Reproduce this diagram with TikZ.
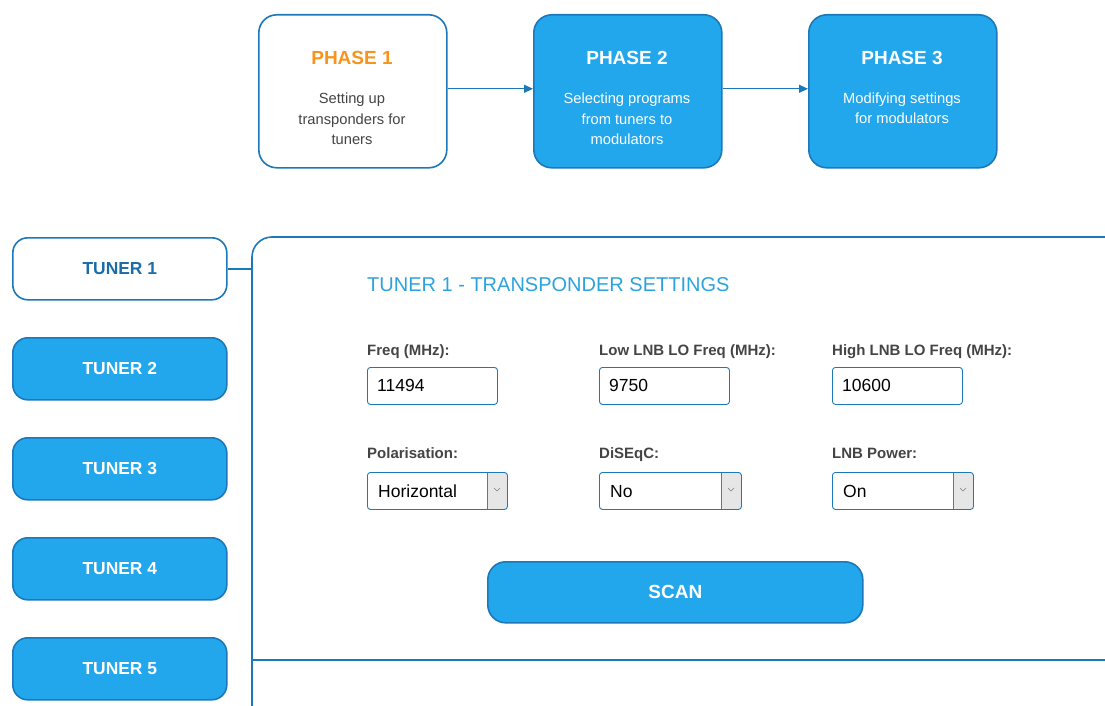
\documentclass[tikz,border=0pt]{standalone}
\usepackage{fontspec}
\setmainfont{Liberation Sans}
\usetikzlibrary{arrows.meta}
\definecolor{btnblue}{HTML}{22A7EC}
\definecolor{edgeblue}{HTML}{1C78B8}
\definecolor{darkblue}{HTML}{1B6CA8}
\definecolor{titleblue}{HTML}{2DA3DD}
\definecolor{orng}{HTML}{F7941D}
\definecolor{lbl}{HTML}{444444}
\definecolor{ddgray}{HTML}{E6E6E6}
\tikzset{
  phasebox/.style={draw=edgeblue, line width=1.6pt, rounded corners=18pt, minimum width=188pt, minimum height=153pt, anchor=north west, fill=btnblue},
  tunerbox/.style={draw=edgeblue, line width=1.6pt, rounded corners=15pt, minimum width=214pt, minimum height=62pt, anchor=north west, fill=btnblue, text=white, font=\fontsize{17.4}{19}\selectfont\bfseries},
  ptitle/.style={font=\fontsize{19}{21}\selectfont\bfseries, text=white, inner sep=0pt},
  pbody/.style={font=\fontsize{14.7}{20}\selectfont, text=white, align=center, inner sep=0pt},
  flbl/.style={anchor=base west, inner sep=0pt, font=\fontsize{15}{17}\selectfont\bfseries, text=lbl},
  inbox/.style={draw=edgeblue, line width=0.9pt, rounded corners=3pt, minimum width=130pt, minimum height=37pt, anchor=north west},
  intext/.style={anchor=base west, inner sep=0pt, font=\fontsize{17.5}{20}\selectfont, text=black},
  conn/.style={draw=edgeblue, line width=1.2pt},
  arr/.style={conn, -{Triangle[length=9pt,width=8pt]}}
}
\begin{document}
\begin{tikzpicture}[x=1pt,y=-1pt]
\useasboundingbox (0,0) rectangle (1105,706);
% phases
\node[phasebox, fill=white] (p1) at (258,14) {};
\node[phasebox] (p2) at (533,14) {};
\node[phasebox] (p3) at (808,14) {};
\node[ptitle, text=orng, anchor=base] (p1t) at (352,65) {PHASE 1};
\node[pbody, text=lbl, anchor=base] (p1b) at (352,144) {Setting up\\transponders for\\tuners};
\node[ptitle, anchor=base] (p2t) at (627,65) {PHASE 2};
\node[pbody, anchor=base] (p2b) at (627,144) {Selecting programs\\from tuners to\\modulators};
\node[ptitle, anchor=base] (p3t) at (902,65) {PHASE 3};
\node[pbody, anchor=base] (p3b) at (902,124) {Modifying settings\\for modulators};
\draw[arr] ([yshift=2.5pt]p1.east) -- ([yshift=2.5pt]p2.west);
\draw[arr] ([yshift=2.5pt]p2.east) -- ([yshift=2.5pt]p3.west);
% tuners
\node[tunerbox, fill=white, text=darkblue] (t1) at (12,237) {TUNER 1};
\node[tunerbox] (t2) at (12,337) {TUNER 2};
\node[tunerbox] (t3) at (12,437) {TUNER 3};
\node[tunerbox] (t4) at (12,537) {TUNER 4};
\node[tunerbox] (t5) at (12,637) {TUNER 5};
% panel
\coordinate (pl) at (252,268);
\draw[conn, line width=1.6pt, rounded corners=20pt] (252,712) -- (252,237) -- (1110,237);
\draw[conn, line width=1.6pt] (252,660) -- (1110,660);
\draw[conn, line width=1.6pt] (t1.east) -- (t1.east -| pl);
\node[anchor=base west, inner sep=0pt, font=\fontsize{20}{22}\selectfont, text=titleblue] (ttl) at (367,291) {TUNER 1 - TRANSPONDER SETTINGS};
% fields row 1
\node[flbl] (l1) at (367,355) {Freq (MHz):};
\node[flbl] (l2) at (599,355) {Low LNB LO Freq (MHz):};
\node[flbl] (l3) at (832,355) {High LNB LO Freq (MHz):};
\node[inbox] (i1) at (367,367) {};
\node[inbox] (i2) at (599,367) {};
\node[inbox] (i3) at (832,367) {};
\node[intext] (v1) at (377,391) {11494};
\node[intext] (v2) at (609,391) {9750};
\node[intext] (v3) at (842,391) {10600};
% fields row 2
\node[flbl] (l4) at (367,458) {Polarisation:};
\node[flbl] (l5) at (599,458) {DiSEqC:};
\node[flbl] (l6) at (832,458) {LNB Power:};
% selects
\foreach \n/\x/\w/\t in {s1/367/140/Horizontal, s2/599/142/No, s3/832/141/On}{
  \fill[ddgray, rounded corners=3pt] (\x+\w-20,472) rectangle (\x+\w,509);
  \draw[edgeblue!40!gray] (\x+\w-20,472) -- (\x+\w-20,509);
  \node[inbox, minimum width=\w pt] (\n) at (\x,472) {};
  \node[intext] at (\x+11,497) {\t};
  \draw[gray, line width=0.6pt] (\x+\w-13,488) -- (\x+\w-10,491) -- (\x+\w-7,488);
}
% scan
\node[draw=edgeblue, line width=1.6pt, rounded corners=18pt, fill=btnblue, minimum width=375pt, minimum height=61pt, anchor=north west, text=white, font=\fontsize{19}{21}\selectfont\bfseries] (scan) at (487,561) {SCAN};
\end{tikzpicture}
\end{document}
